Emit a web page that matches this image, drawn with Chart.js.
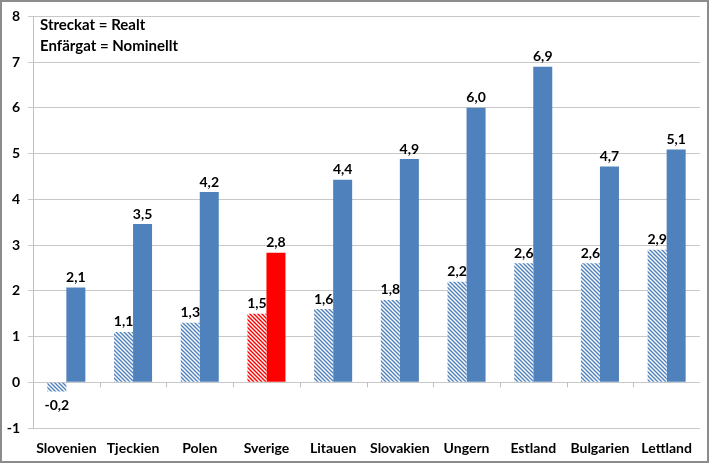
<!DOCTYPE html>
<html lang="sv">
<head>
    <meta charset="UTF-8" />
    <title>Realt och nominellt</title>
    <script src="https://cdn.jsdelivr.net/npm/chart.js"></script>
    <style>
        body { margin: 0; background: #fff; }
        #wrap { width: 709px; height: 463px; position: relative; }
    </style>
</head>
<body>
    <div id="wrap"><canvas id="chart" width="709" height="463"></canvas></div>

    <script>
        // data
        const countries = ["Slovenien", "Tjeckien", "Polen", "Sverige", "Litauen", "Slovakien", "Ungern", "Estland", "Bulgarien", "Lettland"];
        const realValues = [-0.2, 1.1, 1.3, 1.5, 1.6, 1.8, 2.2, 2.6, 2.6, 2.9];
        const nominalValues = [2.07, 3.46, 4.16, 2.83, 4.43, 4.88, 6.0, 6.9, 4.72, 5.09];
        const yTicks = [-1, 0, 1, 2, 3, 4, 5, 6, 7, 8];
        const legendLines = ["Streckat = Realt", "Enfärgat = Nominellt"];
        const highlight = "Sverige";

        const blue = "#4f81bd";
        const red = "#ff0000";
        const font = "Lato, 'Liberation Sans', sans-serif";

        function hatch(color) {
            const c = document.createElement("canvas");
            c.width = 4; c.height = 4;
            const g = c.getContext("2d");
            g.fillStyle = "#fff";
            g.fillRect(0, 0, 4, 4);
            g.strokeStyle = color;
            g.lineWidth = 1.4;
            g.beginPath();
            g.moveTo(-1, -1); g.lineTo(5, 5);
            g.moveTo(-1, 3); g.lineTo(1, 5);
            g.moveTo(3, -1); g.lineTo(5, 1);
            g.stroke();
            return g.createPattern(c, "repeat");
        }

        const ctx = document.getElementById("chart").getContext("2d");
        const realFill = countries.map(c => hatch(c === highlight ? red : blue));
        const nomFill = countries.map(c => c === highlight ? red : blue);

        const fmt = v => v.toFixed(1).replace(".", ",");

        // labels above/below bars, legend text, zero-line ticks, outer frame
        const extras = {
            id: "extras",
            afterDatasetsDraw(chart) {
                const g = chart.ctx;
                g.save();
                g.fillStyle = "#000";
                g.font = "bold 14px " + font;
                g.textAlign = "center";
                chart.data.datasets.forEach((ds, i) => {
                    chart.getDatasetMeta(i).data.forEach((bar, j) => {
                        const v = ds.data[j];
                        if (v >= 0) {
                            g.textBaseline = "bottom";
                            g.fillText(fmt(v), bar.x, bar.y - 3);
                        } else {
                            g.textBaseline = "top";
                            g.fillText(fmt(v), bar.x, bar.y + 7);
                        }
                    });
                });

                const x = chart.scales.x, y = chart.scales.y;
                const y0 = y.getPixelForValue(0);
                g.strokeStyle = "#bfbfbf";
                g.lineWidth = 1;
                for (let k = 1; k < countries.length; k++) {
                    const px = Math.round(x.left + k * (x.right - x.left) / countries.length) + 0.5;
                    g.beginPath();
                    g.moveTo(px, y0);
                    g.lineTo(px, y0 + 5);
                    g.stroke();
                }

                g.textAlign = "left";
                g.textBaseline = "middle";
                g.font = "bold 15px " + font;
                legendLines.forEach((t, k) => g.fillText(t, 40, 25 + k * 21));

                g.strokeStyle = "#8c8c8c";
                g.lineWidth = 2;
                g.strokeRect(1, 1, chart.width - 2, chart.height - 2);
                g.restore();
            }
        };

        new Chart(ctx, {
            type: "bar",
            data: {
                labels: countries,
                datasets: [
                    { label: "Realt", data: realValues, backgroundColor: realFill, borderWidth: 0 },
                    { label: "Nominellt", data: nominalValues, backgroundColor: nomFill, borderWidth: 0 }
                ]
            },
            options: {
                responsive: false,
                animation: false,
                layout: { padding: { top: 14, right: 9, bottom: 0, left: 0 } },
                datasets: { bar: { categoryPercentage: 0.57, barPercentage: 1 } },
                plugins: { legend: { display: false }, tooltip: { enabled: false } },
                scales: {
                    x: {
                        grid: { display: false, drawTicks: false },
                        border: { display: false },
                        ticks: { color: "#000", font: { family: font, size: 14, weight: "bold" }, padding: 12, maxRotation: 0 },
                        afterFit: s => { s.height = 35; }
                    },
                    y: {
                        min: -1, max: 8,
                        afterBuildTicks: s => { s.ticks = yTicks.map(v => ({ value: v })); },
                        grid: { color: "#c8c8c8", tickLength: 5 },
                        border: { color: "#bfbfbf" },
                        ticks: { color: "#000", font: { family: font, size: 14, weight: "bold" }, padding: 8, callback: v => String(v) },
                        afterFit: s => { s.width = 33; }
                    }
                }
            },
            plugins: [extras]
        });
    </script>
</body>
</html>
